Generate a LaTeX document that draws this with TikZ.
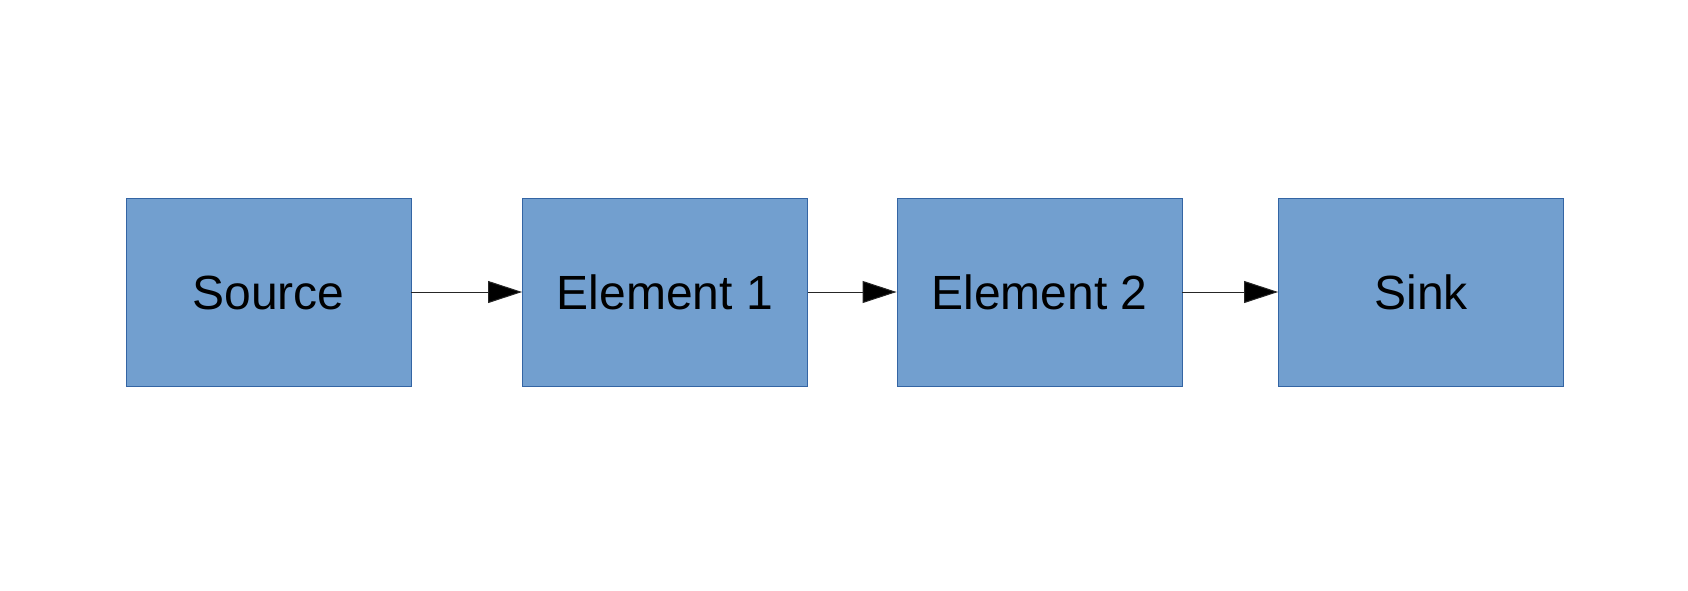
\documentclass[tikz,border=0pt]{standalone}
\usepackage{fontspec}
\setmainfont{Liberation Sans}
\usetikzlibrary{arrows.meta}
\definecolor{boxfill}{HTML}{729FCF}
\definecolor{boxline}{HTML}{3465A4}
\begin{document}
\begin{tikzpicture}[x=1pt,y=-1pt,
  blockbox/.style={draw=boxline, fill=boxfill, line width=0.9pt, inner sep=0pt,
    minimum width=285pt, minimum height=188pt,
    font=\fontsize{48}{56}\selectfont, text height=34pt, text depth=0pt},
  flow/.style={line width=1pt, draw=black!85, -{Triangle[length=34pt,width=22pt,fill=black]}}]
\useasboundingbox (0,0) rectangle (1688,591);
\node[blockbox] (src) at (268.5,292) {Source};
\node[blockbox] (e1) at (665,292) {Element 1};
\node[blockbox] (e2) at (1039.5,292) {Element 2};
\node[blockbox] (sink) at (1421,292) {Sink};
\draw[flow] (src) -- (e1);
\draw[flow] (e1) -- (e2);
\draw[flow] (e2) -- (sink);
\end{tikzpicture}
\end{document}
